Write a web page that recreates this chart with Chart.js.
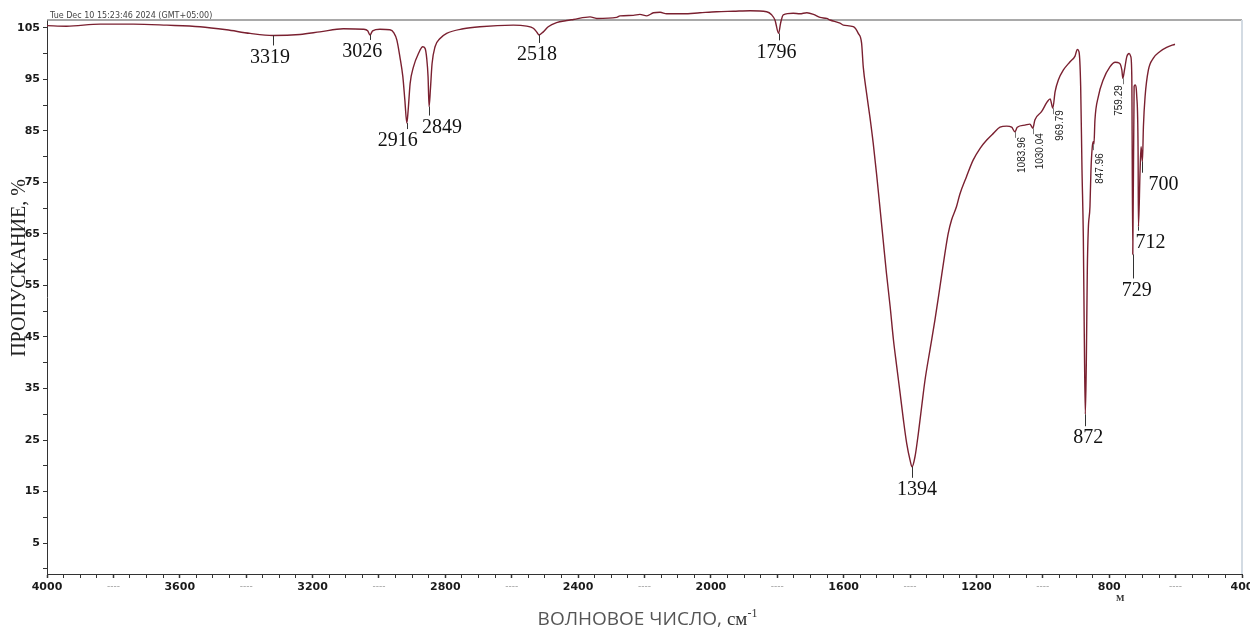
<!DOCTYPE html>
<html>
<head>
<meta charset="utf-8">
<script src="https://cdn.jsdelivr.net/npm/chart.js@4.4.1/dist/chart.umd.min.js"></script>
<style>
  html, body { margin: 0; padding: 0; background: #fff; }
  #wrap { width: 1250px; height: 631px; }
</style>
</head>
<body>
<div id="wrap"><canvas id="irChart" width="1250" height="631"></canvas></div>
<script>
// --- Spectrum: wavenumber (cm-1) and transmittance (%) ---
const wavenumbers = [
  4000, 3941, 3840, 3740, 3639, 3539, 3459, 3388, 3319, 3238, 3178, 3107, 3047, 3034, 3027, 3019,
  2997, 2967, 2955, 2946, 2937, 2928, 2922, 2916, 2912, 2906, 2896, 2881, 2868, 2861, 2856, 2852,
  2849, 2845, 2840, 2831, 2816, 2796, 2746, 2696, 2595, 2555, 2535, 2525, 2518, 2505, 2490, 2465,
  2434, 2414, 2364, 2344, 2284, 2274, 2234, 2214, 2193, 2173, 2153, 2133, 2083, 2033, 1983, 1932,
  1882, 1832, 1817, 1807, 1796, 1790, 1782, 1752, 1732, 1711, 1691, 1671, 1651, 1641, 1611, 1601,
  1571, 1556, 1546, 1541, 1531, 1521, 1511, 1501, 1491, 1481, 1471, 1460, 1450, 1440, 1430, 1420,
  1410, 1400, 1394, 1385, 1375, 1365, 1355, 1340, 1325, 1310, 1295, 1285, 1275, 1260, 1250, 1230,
  1210, 1189, 1169, 1149, 1129, 1109, 1094, 1084, 1077, 1054, 1039, 1030, 1024, 1004, 987, 978,
  970, 963, 953, 938, 918, 903, 896, 891, 886, 882, 878, 875, 872, 869, 866, 863,
  858, 855, 851, 848, 846, 843, 833, 818, 798, 782, 769, 762, 759, 754, 747, 740,
  735, 732, 729, 725, 722, 717, 713, 712, 707, 704, 700, 697, 692, 682, 667, 647,
  627, 602
];
const transmittance = [
  105.4, 105.3, 105.7, 105.7, 105.5, 105.2, 104.6, 103.9, 103.5, 103.7, 104.2, 104.8, 104.7, 104.4, 103.6, 104.4,
  104.7, 104.6, 104.0, 102.6, 99.4, 95.5, 91.0, 86.5, 89.0, 94.2, 97.4, 100.0, 101.3, 101.0, 99.0, 95.5,
  89.7, 93.0, 98.0, 101.3, 102.9, 103.9, 104.8, 105.2, 105.5, 105.3, 104.9, 104.2, 103.6, 104.2, 105.2, 106.0,
  106.4, 106.6, 107.1, 106.8, 107.0, 107.3, 107.4, 107.6, 107.3, 107.9, 108.0, 107.7, 107.7, 107.9, 108.1, 108.2,
  108.3, 108.1, 107.5, 106.5, 103.9, 105.9, 107.5, 107.8, 107.7, 107.9, 107.6, 107.0, 106.8, 106.5, 105.9, 105.5,
  105.2, 103.9, 102.0, 97.4, 92.3, 87.7, 82.6, 76.7, 70.3, 63.8, 57.3, 50.9, 44.4, 39.2, 34.1, 28.9,
  24.3, 21.1, 19.8, 21.8, 26.3, 31.5, 36.6, 42.5, 48.3, 54.7, 61.2, 65.1, 67.7, 70.3, 72.7, 76.1,
  79.3, 81.6, 83.2, 84.5, 85.7, 85.9, 85.7, 84.8, 85.7, 86.1, 86.3, 85.5, 87.1, 88.7, 90.6, 91.2,
  89.4, 92.6, 94.9, 96.8, 98.4, 99.5, 100.8, 100.3, 93.6, 77.4, 64.4, 44.6, 30.0, 40.0, 58.0, 66.0,
  70.3, 77.4, 81.9, 82.9, 82.4, 87.1, 91.6, 94.9, 97.4, 98.3, 98.1, 96.8, 95.2, 96.8, 99.4, 100.0,
  99.4, 95.5, 61.0, 93.6, 93.9, 91.6, 80.7, 66.4, 77.4, 81.9, 79.0, 85.8, 91.6, 96.8, 99.1, 100.4,
  101.2, 101.8
];

// marked peaks (large labels)
const peakWavenumbers = [3319, 3026, 2916, 2849, 2518, 1796, 1394, 872, 729, 712, 700];
const peakValues = [103.5, 103.6, 86.5, 89.7, 103.6, 103.9, 19.8, 30.0, 61.0, 66.4, 79.0];
const peakLabels = ['3319', '3026', '2916', '2849', '2518', '1796', '1394', '872', '729', '712', '700'];
// small rotated labels
const minorPeakWavenumbers = [1083.96, 1030.04, 969.79, 847.96, 759.29];
const minorPeakValues = [84.8, 85.5, 89.4, 82.4, 95.2];
const minorPeakLabels = ['1083.96', '1030.04', '969.79', '847.96', '759.29'];

// axis ticks
const xMajorTicks = [4000, 3600, 3200, 2800, 2400, 2000, 1600, 1200, 800, 400];
const yLabelTicks = [5, 15, 25, 35, 45, 55, 65, 75, 85, 95, 105];

// label placement (pixels from the peak tip)
const peakLabelOffsets = [[-3, 22], [-8, 17], [-9, 18], [13, 21], [-2, 20], [-2, 19], [5, 23], [3, 24], [4, 36], [12, 16], [21, 23]];
const minorLabelOffsets = [[7, 5], [7, 5], [7, 2], [7, 9], [-3, 7]];

const isMajor = (c) => !!(c && c.tick && xMajorTicks.includes(c.tick.value));

const peakMarks = {
    id: 'peakMarks',
    afterDatasetsDraw(chart) {
        const {ctx, scales: {x, y}} = chart;
        ctx.save();
        // big serif labels with a short drop line
        peakWavenumbers.forEach((w, i) => {
            const px = x.getPixelForValue(w);
            const py = y.getPixelForValue(peakValues[i]);
            const [dx, dy] = peakLabelOffsets[i];
            const ly = py + dy;
            ctx.strokeStyle = '#333';
            ctx.lineWidth = 1;
            ctx.beginPath();
            ctx.moveTo(Math.round(px) + 0.5, py);
            ctx.lineTo(Math.round(px) + 0.5, Math.max(py + 4, ly - 12));
            ctx.stroke();
            ctx.fillStyle = '#111';
            ctx.font = '20px "Liberation Serif"';
            ctx.textAlign = 'center';
            ctx.textBaseline = 'middle';
            ctx.fillText(peakLabels[i], px + dx, ly);
        });
        // small rotated labels
        minorPeakWavenumbers.forEach((w, i) => {
            const px = x.getPixelForValue(w);
            const py = y.getPixelForValue(minorPeakValues[i]);
            const [dx, dy] = minorLabelOffsets[i];
            ctx.strokeStyle = '#777';
            ctx.beginPath();
            ctx.moveTo(Math.round(px) + 0.5, py);
            ctx.lineTo(Math.round(px) + 0.5, py + 6);
            ctx.stroke();
            ctx.save();
            ctx.translate(px + dx, py + dy);
            ctx.rotate(-Math.PI / 2);
            ctx.fillStyle = '#222';
            ctx.font = '10px "Liberation Sans"';
            ctx.textAlign = 'right';
            ctx.textBaseline = 'middle';
            ctx.fillText(minorPeakLabels[i], 0, 0);
            ctx.restore();
        });
        ctx.restore();
    }
};

const frameAndTitles = {
    id: 'frameAndTitles',
    beforeDatasetsDraw(chart) {
        const {ctx, chartArea: a} = chart;
        ctx.save();
        // top and right frame lines
        ctx.strokeStyle = '#8c8c8c';
        ctx.lineWidth = 1.5;
        ctx.beginPath();
        ctx.moveTo(a.left, a.top);
        ctx.lineTo(a.right, a.top);
        ctx.stroke();
        ctx.strokeStyle = '#d3dbe3';
        ctx.lineWidth = 2;
        ctx.beginPath();
        ctx.moveTo(a.right, a.top);
        ctx.lineTo(a.right, a.bottom);
        ctx.stroke();
        ctx.restore();
    },
    afterDraw(chart) {
        const {ctx, chartArea: a} = chart;
        ctx.save();
        // timestamp
        ctx.fillStyle = '#444';
        ctx.font = '8px "DejaVu Sans"';
        ctx.textAlign = 'left';
        ctx.textBaseline = 'alphabetic';
        ctx.fillText('Tue Dec 10 15:23:46 2024 (GMT+05:00)', a.left + 3, a.top - 2);
        // y title
        ctx.save();
        ctx.translate(20, 268);
        ctx.rotate(-Math.PI / 2);
        ctx.fillStyle = '#222';
        ctx.font = '20px "Liberation Serif"';
        ctx.textAlign = 'center';
        ctx.textBaseline = 'middle';
        ctx.fillText('ПРОПУСКАНИЕ, %', 0, 0);
        ctx.restore();
        // x title: sans part + serif unit with superscript
        const part1 = 'ВОЛНОВОЕ ЧИСЛО, ';
        const part2 = 'см';
        const part3 = '-1';
        ctx.textBaseline = 'alphabetic';
        ctx.font = '19px "Open Sans"';
        const w1 = ctx.measureText(part1).width;
        ctx.font = '19px "Liberation Serif"';
        const w2 = ctx.measureText(part2).width;
        ctx.font = '12px "Liberation Serif"';
        const w3 = ctx.measureText(part3).width;
        let sx = (a.left + a.right) / 2 + 3 - (w1 + w2 + w3) / 2;
        const base = 625;
        ctx.fillStyle = '#555';
        ctx.font = '19px "Open Sans"';
        ctx.fillText(part1, sx, base);
        sx += w1;
        ctx.fillStyle = '#333';
        ctx.font = '19px "Liberation Serif"';
        ctx.fillText(part2, sx, base);
        sx += w2;
        ctx.font = '12px "Liberation Serif"';
        ctx.fillText(part3, sx, base - 8);
        // small stray mark under 800
        ctx.font = 'bold 9px "Liberation Serif"';
        ctx.fillStyle = '#333';
        ctx.fillText('M', 1116, 601);
        ctx.restore();
    }
};

const ctx = document.getElementById('irChart').getContext('2d');
const irChart = new Chart(ctx, {
    type: 'line',
    data: {
        datasets: [{
            data: wavenumbers.map((w, i) => ({x: w, y: transmittance[i]})),
            borderColor: '#7a2030',
            borderWidth: 1.4,
            pointRadius: 0,
            cubicInterpolationMode: 'monotone',
            clip: false,
            fill: false
        }]
    },
    options: {
        responsive: false,
        animation: false,
        devicePixelRatio: 1,
        layout: { padding: { top: 20, right: 8, left: 0, bottom: 0 } },
        plugins: { legend: { display: false }, tooltip: { enabled: false } },
        scales: {
            x: {
                type: 'linear',
                reverse: true,
                min: 400,
                max: 4000,
                afterBuildTicks: (scale) => {
                    const t = [];
                    for (let v = 400; v <= 4000; v += 50) t.push({value: v});
                    scale.ticks = t;
                },
                afterFit: (scale) => {
                    scale.height = 57;
                    scale.paddingLeft = 0;
                    scale.paddingRight = 0;
                },
                border: { display: true, color: '#333', width: 1 },
                grid: {
                    drawOnChartArea: false,
                    drawTicks: true,
                    tickLength: 4,
                    tickColor: '#333',
                    tickWidth: (c) => (c && c.tick && c.tick.value % 200 === 0 ? 1.5 : 1)
                },
                ticks: {
                    autoSkip: false,
                    maxRotation: 0,
                    padding: 3,
                    color: (c) => (isMajor(c) ? '#1a1a1a' : '#999'),
                    font: (c) => (isMajor(c) || !c || !c.tick
                        ? {family: 'DejaVu Sans', size: 11, weight: 'bold'}
                        : {family: 'DejaVu Sans', size: 9, weight: 'normal'}),
                    callback: (v) => (xMajorTicks.includes(v) ? String(v) : (v % 200 === 0 ? '----' : ''))
                }
            },
            y: {
                min: -1,
                max: 106.5,
                afterBuildTicks: (scale) => {
                    const t = [];
                    for (let v = 0; v <= 105; v += 5) t.push({value: v});
                    scale.ticks = t;
                },
                afterFit: (scale) => {
                    scale.width = 47;
                    scale.paddingTop = 0;
                    scale.paddingBottom = 0;
                },
                border: { display: true, color: '#333', width: 1, dash: [1, 2] },
                grid: {
                    drawOnChartArea: false,
                    drawTicks: true,
                    tickLength: 4,
                    tickColor: '#333'
                },
                ticks: {
                    autoSkip: false,
                    padding: 3,
                    color: '#1a1a1a',
                    font: {family: 'DejaVu Sans', size: 11, weight: 'bold'},
                    callback: (v) => (yLabelTicks.includes(v) ? String(v) : '')
                }
            }
        }
    },
    plugins: [frameAndTitles, peakMarks]
});
</script>
</body>
</html>
